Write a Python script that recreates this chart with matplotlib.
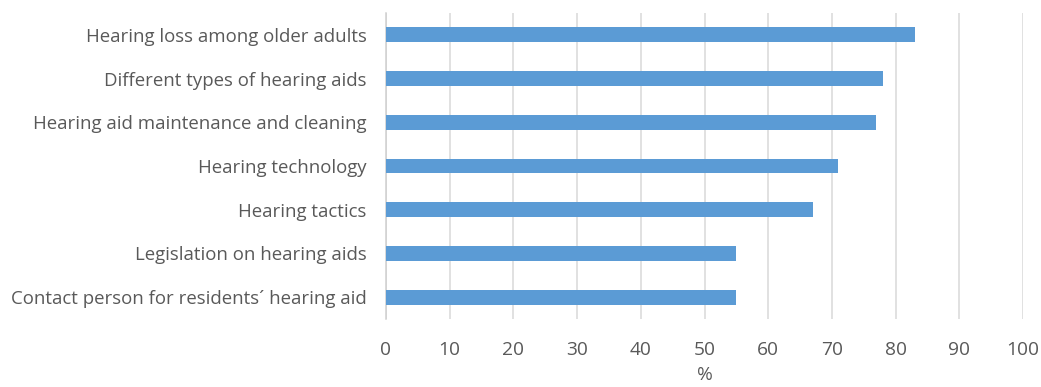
import matplotlib
matplotlib.use("Agg")
import matplotlib.pyplot as plt

topics = [
    "Hearing loss among older adults",
    "Different types of hearing aids",
    "Hearing aid maintenance and cleaning",
    "Hearing technology",
    "Hearing tactics",
    "Legislation on hearing aids",
    "Contact person for residents\u00b4 hearing aid",
]
percent = [83, 78, 77, 71, 67, 55, 55]
x_ticks = [0, 10, 20, 30, 40, 50, 60, 70, 80, 90, 100]

plt.rcParams["font.family"] = ["Open Sans", "DejaVu Sans"]
TEXT = "#595959"

fig = plt.figure(figsize=(10.41, 3.87), dpi=100)
ax = fig.add_axes([386 / 1041, 68 / 387, 637 / 1041, 306 / 387])

pos = list(range(len(topics)))
ax.barh(pos, percent, height=0.34, color="#5B9BD5", zorder=3)
ax.set_ylim(len(topics) - 0.5, -0.5)
ax.set_yticks(pos)
ax.set_yticklabels(topics, fontsize=13.4, color=TEXT)

ax.set_xlim(0, 100)
ax.set_xticks(x_ticks)
ax.set_xticklabels([str(t) for t in x_ticks], fontsize=13.8, color=TEXT)
ax.set_xlabel("%", fontsize=13.8, color=TEXT, labelpad=5)

ax.grid(axis="x", color="#D9D9D9", linewidth=1.1, zorder=0)
for s in ["top", "right", "bottom"]:
    ax.spines[s].set_visible(False)
ax.spines["left"].set_color("#D0D0D0")
ax.spines["left"].set_linewidth(1.1)
ax.tick_params(length=0)
ax.tick_params(axis="y", pad=14)
ax.tick_params(axis="x", pad=16)

fig.savefig("out.png", dpi=100)
